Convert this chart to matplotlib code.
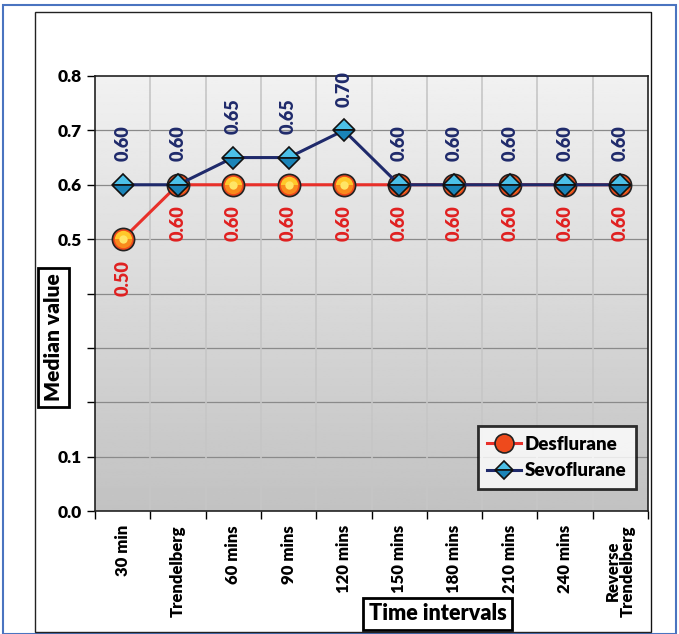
import numpy as np
import matplotlib.pyplot as plt
from matplotlib.patches import Rectangle

plt.rcParams['font.family'] = ['Lato', 'DejaVu Sans']
plt.rcParams['font.weight'] = 'heavy'
BOLD = 'heavy'

# time points and medians
intervals = ["30 min", "Trendelberg", "60 mins", "90 mins", "120 mins", "150 mins",
             "180 mins", "210 mins", "240 mins", "Reverse\nTrendelberg"]
desflurane = [0.50, 0.60, 0.60, 0.60, 0.60, 0.60, 0.60, 0.60, 0.60, 0.60]
sevoflurane = [0.60, 0.60, 0.65, 0.65, 0.70, 0.60, 0.60, 0.60, 0.60, 0.60]
yticks = [0.0, 0.1, 0.2, 0.3, 0.4, 0.5, 0.6, 0.7, 0.8]

fig = plt.figure(figsize=(6.79, 6.34), dpi=100)
W, H = 679, 634

# outer frames
fig.patches.append(Rectangle((3 / W, 0), 673 / W, 629 / H, transform=fig.transFigure,
                             fill=False, ec='#4a74c0', lw=1.5))
fig.patches.append(Rectangle((35 / W, 2 / H), 616 / W, 620 / H, transform=fig.transFigure,
                             fill=False, ec='#222222', lw=1.0))
fig.patches.append(Rectangle((651 / W, 2 / H), 0.002, 620 / H, transform=fig.transFigure,
                             fc='#111111', ec='none'))

ax = fig.add_axes([95 / W, 1 - 511 / H, 553 / W, 435 / H])
x = np.arange(len(intervals))

# gradient background
grad = np.linspace(0.945, 0.76, 256).reshape(-1, 1)
ax.imshow(grad, cmap='gray', vmin=0, vmax=1, aspect='auto', extent=[0, 1, 0, 1],
          transform=ax.transAxes, zorder=0)

ax.set_xlim(-0.5, len(intervals) - 0.5)
ax.set_ylim(0, 0.8)

for yv in yticks[1:-1]:
    ax.axhline(yv, color='#8a8a8a', lw=0.9, zorder=1)
for xv in np.arange(0.5, len(intervals) - 0.5, 1):
    ax.axvline(xv, color='#c6c6c6', lw=1.2, zorder=1)

# desflurane: circles shaded yellow on top, red underneath
ax.plot(x, desflurane, color='#e8302a', lw=2.2, marker='o', ms=16,
        mfc='#ee4a1c', mec='#222222', mew=1.2, zorder=3, label='Desflurane')
ax.plot(x, desflurane, ls='none', marker='o', ms=12.5, mfc='#ffc82a', mfcalt='#f98a1c',
        fillstyle='top', mec='none', zorder=3)
ax.plot(x, desflurane, ls='none', marker='o', ms=6, mfc='#ffe566', mec='none', zorder=3)
ax.plot(x, sevoflurane, color='#1f2a6b', lw=2.2, marker='D', ms=11,
        mfc='#4cc0e8', mfcalt='#1a84b8', fillstyle='top', mec='#111111', mew=1.2,
        zorder=4, label='Sevoflurane')

for xi, v in zip(x, sevoflurane):
    ax.annotate(f"{v:.2f}", (xi, v), xytext=(0, 17), textcoords='offset points',
                rotation=90, ha='center', va='bottom', color='#1f2a6b',
                fontsize=13, fontweight=BOLD, zorder=5)
for xi, v in zip(x, desflurane):
    ax.annotate(f"{v:.2f}", (xi, v), xytext=(0, -15), textcoords='offset points',
                rotation=90, ha='center', va='top', color='#e02020',
                fontsize=13, fontweight=BOLD, zorder=5)

ax.set_yticks(yticks)
ax.set_yticklabels([f"{t:.1f}" if t not in (0.2, 0.3, 0.4) else "" for t in yticks],
                   fontsize=12.5, fontweight=BOLD)
ax.set_xticks(np.arange(-0.5, len(intervals), 1), minor=False)
ax.set_xticklabels([])
ax.set_xticks(x, minor=True)
ax.set_xticklabels(intervals, minor=True, rotation=90, fontsize=12, fontweight=BOLD,
                   linespacing=0.95)
ax.tick_params(axis='x', which='minor', length=0, pad=10)
ax.tick_params(axis='x', which='major', length=6, direction='out', width=1)
ax.tick_params(axis='y', length=6, width=1)
for s in ax.spines.values():
    s.set_color('#222222')
    s.set_linewidth(1.2)

ax.set_ylabel("Median value", fontsize=15, fontweight=BOLD,
              bbox=dict(fc='white', ec='black', lw=2, pad=4))
ax.yaxis.set_label_coords(-0.058, 0.40)
ax.set_xlabel("Time intervals", fontsize=15.5, fontweight=BOLD,
              bbox=dict(fc='white', ec='black', lw=2, pad=4))
ax.xaxis.set_label_coords(0.62, -0.212)

leg = ax.legend(loc='lower right', bbox_to_anchor=(0.995, 0.03), fontsize=13.5,
                frameon=True, fancybox=False, handlelength=1.8, handletextpad=0.2,
                borderpad=0.5, labelspacing=0.5, markerscale=0.85)
leg.get_frame().set_edgecolor('black')
leg.get_frame().set_linewidth(2)
for t in leg.get_texts():
    t.set_fontweight(BOLD)

fig.savefig("out.png", dpi=100)
